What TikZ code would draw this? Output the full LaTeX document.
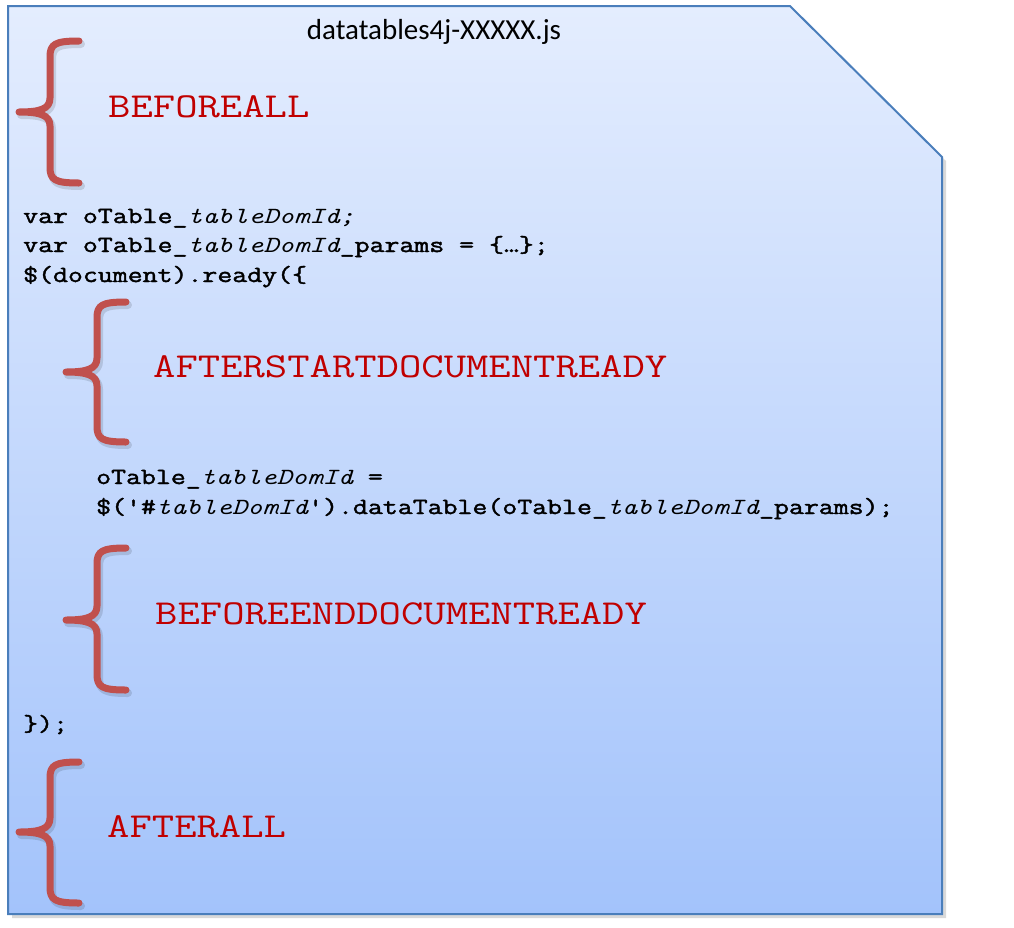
\documentclass[tikz,border=0pt]{standalone}
\usepackage{fontspec}
\newfontfamily\titlefont{Carlito}
\newfontfamily\codefont{Latin Modern Mono}[FakeStretch=1.25, FakeBold=1.8]
\newfontfamily\codeit{Latin Modern Mono}[FakeStretch=1.25]
\newfontfamily\labelfont{Latin Modern Mono}[FakeStretch=1.24]
\definecolor{docborder}{HTML}{4A7EBB}
\definecolor{doctop}{HTML}{E4EDFE}
\definecolor{docbot}{HTML}{A3C3FB}
\definecolor{bracecol}{HTML}{C0504D}
\definecolor{labelcol}{HTML}{C00000}
\newcommand{\tdid}{{\codeit\itshape tableDomId}}
\newcommand{\mybrace}[4]{%
  \draw[braceshadow] ({#1+29+2},{#2+3}) .. controls ({#1+5+2},{#2+3}) and ({#1+2},{#2+6}) .. ({#1+2},{#2+19}) -- ({#1+2},{#3-11}) .. controls ({#1+2},{#3}) and ({#1-8},{#3+3}) .. ({#1-29},{#3+3}) .. controls ({#1-8},{#3+3}) and ({#1+2},{#3+6}) .. ({#1+2},{#3+17}) -- ({#1+2},{#4-13}) .. controls ({#1+2},{#4}) and ({#1+7},{#4+3}) .. ({#1+31},{#4+3});
  \draw[bracestroke] ({#1+29},#2) .. controls ({#1+5},#2) and (#1,{#2+3}) .. (#1,{#2+16}) -- (#1,{#3-14}) .. controls (#1,{#3-3}) and ({#1-10},#3) .. ({#1-31},#3) .. controls ({#1-10},#3) and (#1,{#3+3}) .. (#1,{#3+14}) -- (#1,{#4-16}) .. controls (#1,{#4-3}) and ({#1+5},#4) .. ({#1+29},#4);}
\begin{document}
\begin{tikzpicture}[x=1pt,y=-1pt,
  codetext/.style={anchor=base west, inner sep=0pt, font=\codefont\fontsize{23.2}{29}\selectfont},
  labeltext/.style={anchor=base west, inner sep=0pt, text=labelcol, font=\labelfont\fontsize{35}{40}\selectfont},
  titletext/.style={anchor=base, inner sep=0pt, font=\titlefont\fontsize{29}{33}\selectfont},
  bracestroke/.style={draw=bracecol, line width=7pt, line cap=round, line join=round},
  braceshadow/.style={draw=black, opacity=0.12, line width=8pt, line cap=round, line join=round}]
\useasboundingbox (0,0) rectangle (1014,927);
% document shadow
\fill[black, opacity=0.15] (12,10) -- (793,10) -- (946,161) -- (946,918) -- (12,918) -- cycle;
% document
\shade[top color=doctop, bottom color=docbot] (8,6) -- (790,6) -- (942,157) -- (942,914) -- (8,914) -- cycle;
\draw[docborder, line width=2pt, line join=miter] (8,6) -- (790,6) -- (942,157) -- (942,914) -- (8,914) -- cycle;
% title
\node[titletext] (title) at (434,39) {datatables4j-XXXXX.js};
% braces
\mybrace{50}{41}{112}{183}
\mybrace{97}{302}{372}{442}
\mybrace{97}{548}{620}{690}
\mybrace{50}{762}{832}{903}
% labels
\node[labeltext] (beforeall) at (108,117) {BEFOREALL};
\node[labeltext] (afterstart) at (153,377) {AFTERSTARTDOCUMENTREADY};
\node[labeltext] (beforeend) at (155,624) {BEFOREENDDOCUMENTREADY};
\node[labeltext] (afterall) at (107,837) {AFTERALL};
% code
\node[codetext] (c1) at (23,223) {var oTable\_\tdid{}{\codeit\itshape ;}};
\node[codetext] (c2) at (23,252) {var oTable\_\tdid\_params = \{…\};};
\node[codetext] (c3) at (23,282) {\$(document).ready(\{};
\node[codetext] (c4) at (96,484) {oTable\_\tdid{} =};
\node[codetext] (c5) at (96,514) {\$('\#\tdid').dataTable(oTable\_\tdid\_params);};
\node[codetext] (c6) at (23,731) {\});};
\end{tikzpicture}
\end{document}
